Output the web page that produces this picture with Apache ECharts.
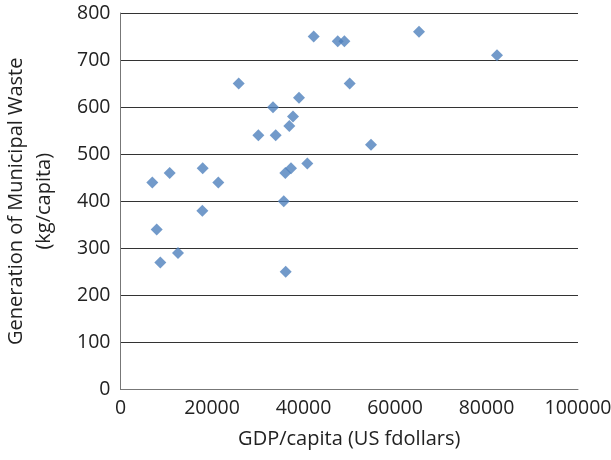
<!DOCTYPE html>
<html><head><meta charset="utf-8">
<script src="https://cdn.jsdelivr.net/npm/echarts@6/dist/echarts.min.js"></script>
<style>html,body{margin:0;padding:0;background:#fff}#c{width:611px;height:460px}</style>
</head><body><div id="c"></div>
<script>
const gdpPerCapita = [6950, 10750, 17960, 21380, 25830, 30130, 33340, 33920, 36900, 37710, 39020, 42230, 47480, 48930, 50100, 36030, 37270, 40840, 35680, 65250, 82300, 54760, 17890, 7910, 8700, 12570, 36110];
const wastePerCapita = [440, 460, 470, 440, 650, 540, 600, 540, 560, 580, 620, 750, 740, 740, 650, 460, 470, 480, 400, 760, 710, 520, 380, 340, 270, 290, 250];
const xTitle = 'GDP/capita (US fdollars)';
const yTitle = 'Generation of Municipal Waste\n(kg/capita)';
const data = gdpPerCapita.map((g, i) => [g, wastePerCapita[i]]);
const font = '"Open Sans", "Liberation Sans", sans-serif';
const chart = echarts.init(document.getElementById('c'));
chart.setOption({
  animation: false,
  grid: {left: 120.5, right: 33, top: 13, bottom: 70.5, containLabel: false, outerBoundsMode: 'none'},
  xAxis: {
    type: 'value', min: 0, max: 100000, interval: 20000,
    name: xTitle, nameLocation: 'middle', nameGap: 40,
    nameTextStyle: {fontFamily: font, fontSize: 20, color: '#222'},
    axisLine: {show: true, lineStyle: {color: '#777', width: 1}},
    axisTick: {show: false},
    axisLabel: {fontFamily: font, fontSize: 19.5, color: '#222', margin: 9, formatter: v => String(v), hideOverlap: false},
    splitLine: {show: false}
  },
  yAxis: {
    type: 'value', min: 0, max: 800, interval: 100,
    name: yTitle, nameLocation: 'middle', nameGap: 62, nameRotate: 90,
    nameTextStyle: {fontFamily: font, fontSize: 20, color: '#222', lineHeight: 28},
    axisLine: {show: true, lineStyle: {color: '#777', width: 1}},
    axisTick: {show: false},
    axisLabel: {fontFamily: font, fontSize: 19.5, color: '#222', margin: 10, formatter: v => String(v)},
    splitLine: {show: true, lineStyle: {color: '#333', width: 1}}
  },
  series: [{
    type: 'scatter', data: data, symbol: 'diamond', symbolSize: 12,
    itemStyle: {color: '#4F81BD'}
  }]
});
</script></body></html>
